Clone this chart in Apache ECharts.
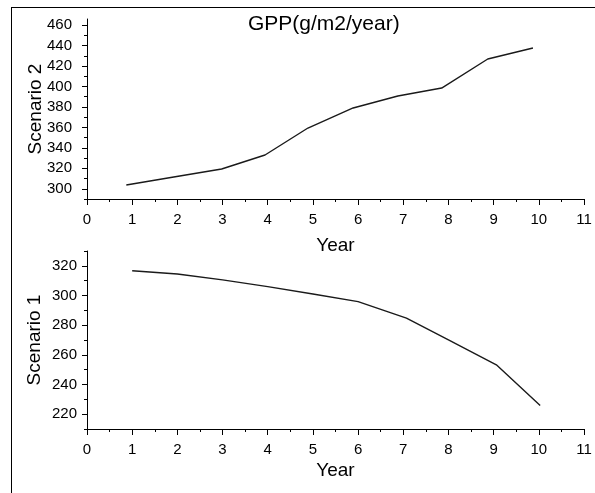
<!DOCTYPE html>
<html>
<head>
<meta charset="utf-8">
<script src="https://cdn.jsdelivr.net/npm/echarts@6/dist/echarts.min.js"></script>
<style>
html,body{margin:0;padding:0;background:#fff;}
#chart{width:595px;height:493px;}
</style>
</head>
<body>
<div id="chart"></div>
<script>
// ---- data ----
var titleText = 'GPP(g/m2/year)';
var xTitle = 'Year';
var yTitleTop = 'Scenario 2';
var yTitleBottom = 'Scenario 1';

var xTicks = [0, 1, 2, 3, 4, 5, 6, 7, 8, 9, 10, 11];

// Scenario 2 (top panel)
var years2 = [0.87, 1.92, 2.98, 3.94, 4.89, 5.89, 6.88, 7.85, 8.87, 9.87];
var values2 = [303.7, 311.5, 319.3, 333, 359.4, 379, 390.7, 398.5, 426.9, 437.6];
var yTicks2 = [300, 320, 340, 360, 380, 400, 420, 440, 460];
var yMinor2 = [290, 310, 330, 350, 370, 390, 410, 430, 450];

// Scenario 1 (bottom panel)
var years1 = [1, 2, 3, 4, 5, 6, 7.07, 8, 9.06, 10.03];
var values1 = [316.7, 314.5, 310.5, 306, 301, 295.9, 284.7, 270.1, 253.3, 225.9];
var yTicks1 = [220, 240, 260, 280, 300, 320];
var yMinor1 = [210, 230, 250, 270, 290, 310, 330];

// ---- chart ----
var FONT = 'Liberation Sans, Arial, sans-serif';
function pairs(xs, ys) { return xs.map(function (x, i) { return [x, ys[i]]; }); }

function xAxisFor(gi, gap) {
  return {
    gridIndex: gi, type: 'value', min: xTicks[0], max: xTicks[xTicks.length - 1], interval: 1,
    axisLine: { show: true, onZero: false, lineStyle: { color: '#000', width: 1 } },
    axisTick: { show: true, length: 6, lineStyle: { color: '#000', width: 1 } },
    minorTick: { show: true, splitNumber: 2, length: 3, lineStyle: { color: '#000', width: 1 } },
    splitLine: { show: false },
    axisLabel: { fontSize: 15, color: '#000', margin: 13, fontFamily: FONT },
    name: xTitle, nameLocation: 'middle', nameGap: gap, nameMoveOverlap: false,
    nameTextStyle: { fontSize: 19, color: '#000', fontFamily: FONT }
  };
}
function yMain(gi, min, max, ticks, name, gap, margin) {
  return {
    gridIndex: gi, type: 'value', min: min, max: max, position: 'left',
    axisLine: { show: true, onZero: false, lineStyle: { color: '#000', width: 1 } },
    axisTick: { show: true, length: 5, customValues: ticks, lineStyle: { color: '#000', width: 1 } },
    axisLabel: { show: true, customValues: ticks, fontSize: 15, color: '#000', margin: margin, fontFamily: FONT },
    splitLine: { show: false },
    name: name, nameLocation: 'middle', nameGap: gap, nameMoveOverlap: false,
    nameTextStyle: { fontSize: 19, color: '#000', fontFamily: FONT }
  };
}
function yMinor(gi, min, max, ticks) {
  return {
    gridIndex: gi, type: 'value', min: min, max: max, position: 'left', offset: 0,
    axisLine: { show: false },
    axisTick: { show: true, length: 3, customValues: ticks, lineStyle: { color: '#000', width: 1 } },
    axisLabel: { show: false },
    splitLine: { show: false }
  };
}

var chart = echarts.init(document.getElementById('chart'), null, { renderer: 'canvas' });
chart.setOption({
  animation: false,
  backgroundColor: '#fff',
  title: {
    text: titleText, left: 243, top: 9,
    textStyle: { fontSize: 21, fontWeight: 'normal', color: '#000', fontFamily: FONT }
  },
  graphic: [
    { type: 'line', shape: { x1: 11.5, y1: 7, x2: 11.5, y2: 493 }, style: { stroke: '#000', lineWidth: 1 } },
    { type: 'line', shape: { x1: 11, y1: 7.5, x2: 595, y2: 7.5 }, style: { stroke: '#000', lineWidth: 1 } }
  ],
  grid: [
    { left: 87, right: 11, top: 19, height: 180 },
    { left: 87, right: 11, top: 251, height: 178 }
  ],
  xAxis: [xAxisFor(0, 37), xAxisFor(1, 32)],
  yAxis: [
    yMain(0, 290, 466, yTicks2, yTitleTop, 42, 15),
    yMinor(0, 290, 466, yMinor2),
    yMain(1, 210, 330, yTicks1, yTitleBottom, 43, 10),
    yMinor(1, 210, 330, yMinor1)
  ],
  series: [
    {
      type: 'line', xAxisIndex: 0, yAxisIndex: 0, data: pairs(years2, values2),
      showSymbol: false, symbol: 'none', silent: true,
      lineStyle: { color: '#1a1a1a', width: 1.4 }
    },
    {
      type: 'line', xAxisIndex: 1, yAxisIndex: 2, data: pairs(years1, values1),
      showSymbol: false, symbol: 'none', silent: true,
      lineStyle: { color: '#1a1a1a', width: 1.4 }
    }
  ]
});
</script>
</body>
</html>
